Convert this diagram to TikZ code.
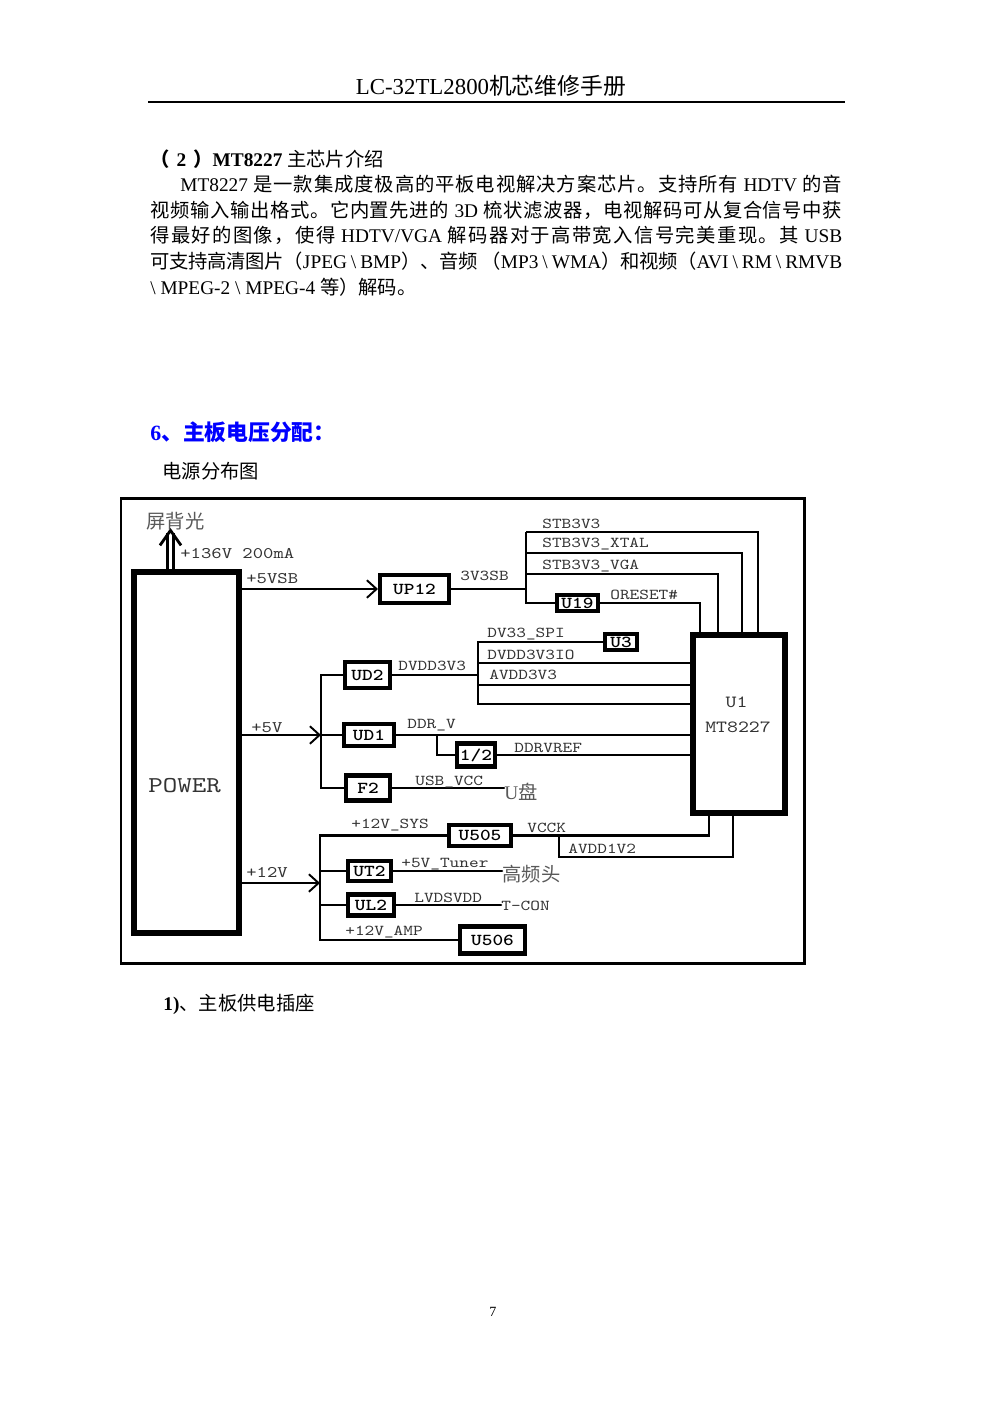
\documentclass[tikz,border=0pt]{standalone}
\usepackage{fontspec}
\setmainfont{Liberation Serif}
\newfontfamily\cjkfont{Noto Sans CJK SC}
\newfontfamily\diagmono{lmmono10-regular.otf}[FakeStretch=1.22, BoldFont=lmmonolt10-bold.otf]
\usetikzlibrary{arrows.meta}

% CJK runs, with a little stretch between the characters
\newcommand\zhloop[1]{\ifx\relax#1\else#1\hskip0pt plus 2pt minus .3pt\relax\expandafter\zhloop\fi}
\newcommand\zh[1]{{\cjkfont\zhloop#1\relax\unskip}}

\tikzstyle{txt} = [inner sep=0pt, anchor=base west, font=\fontsize{11}{14}\selectfont]
\tikzstyle{box} = [draw, line width=2.3pt, inner sep=0pt, font=\diagmono\bfseries\fontsize{9.5}{9.5}\selectfont]
\tikzstyle{chip} = [draw, line width=3.3pt, inner sep=0pt]
\tikzstyle{sig} = [inner sep=0pt, anchor=base west, text=black!80, font=\diagmono\fontsize{8.6}{8.6}\selectfont]
\tikzstyle{rail} = [sig, font=\diagmono\fontsize{9.2}{9.2}\selectfont]
\tikzstyle{tag} = [inner sep=0pt, anchor=west, text=black!65, font=\fontsize{11}{11}\selectfont]
\tikzstyle{wire} = [line width=1.1pt]
\tikzstyle{bus} = [line width=1.5pt]
\tikzstyle{feed} = [wire, -{Straight Barb[length=5.5pt,width=10pt]}]
\tikzstyle{lamp} = [double, line width=1.5pt, double distance=1.7pt]
\tikzstyle{lamptip} = [line width=1.6pt, -{Straight Barb[length=8.5pt,width=12pt]}]

\begin{document}
\begin{tikzpicture}[x=0.02cm, y=-0.02cm]
\useasboundingbox (0,0) rectangle (993,1404);
%header
\node[txt, font=\fontsize{13}{13}\selectfont, anchor=base] (title) at (491,94) {LC-32TL2800\zh{机芯维修手册}};
\draw[line width=0.8pt] (148,102) -- (845,102);
%begin text
\node[txt] (sec) at (150,166) {\textbf{\zh{（}\hskip0.14cm 2\hskip0.14cm\zh{）}MT8227} \zh{主芯片介绍}};
\node[txt] (p1) at (180,191.6) {\hbox to 13.24cm{MT8227 \zh{是一款集成度极高的平板电视解决方案芯片。支持所有} HDTV \zh{的音}}};
\node[txt] (p2) at (150,217.2) {\hbox to 13.84cm{\zh{视频输入输出格式。它内置先进的} 3D \zh{梳状滤波器，电视解码可从复合信号中获}}};
\node[txt] (p3) at (150,242.8) {\hbox to 13.84cm{\zh{得最好的图像，使得} HDTV/VGA \zh{解码器对于高带宽入信号完美重现。其} USB}};
\node[txt] (p4) at (150,268.4) {\hbox to 13.84cm{\zh{可支持高清图片（}JPEG \textbackslash{} BMP\zh{）、音频} \zh{（}MP3 \textbackslash{} WMA\zh{）和视频（}AVI \textbackslash{} RM \textbackslash{} RMVB}};
\node[txt] (p5) at (150,294) {\textbackslash{} MPEG-2 \textbackslash{} MPEG-4 \zh{等）解码。}};
\node[txt, font=\fontsize{12.4}{12.4}\selectfont\bfseries, text=blue] (head) at (150,440) {6\zh{、主板电压分配：}};
\node[txt] (cap) at (162,478) {\zh{电源分布图}};
%end text
%frame
\draw[line width=1.7pt] (121,498.5) rectangle (804,963);
%begin POWER
\node[chip, line width=3.4pt, minimum width=2.1cm, minimum height=7.22cm] (power) at (186.5,752.5) {};
\node[anchor=base west, inner sep=0pt, text=black!80, font=\diagmono\fontsize{12.9}{12.9}\selectfont] (powername) at (148,792) {POWER};
\coordinate (lamp) at (170.5,528);
\coordinate (neck) at (170.5,533);
\draw[lamp] (neck |- power.north) -- (neck);
\draw[lamptip] (neck) -- (lamp);
\node[tag] (lampname) at (146,521) {\zh{屏背光}};
\node[rail] (hv) at (180,558) {+136V 200mA};
%end POWER
%begin U1
\node[chip, minimum width=1.83cm, minimum height=3.56cm] (u1) at (739,724) {};
\node[anchor=base, inner sep=0pt, text=black!80, font=\diagmono\fontsize{9.7}{9.7}\selectfont] (u1name) at (736.5,707) {U1};
\node[anchor=base, inner sep=0pt, text=black!80, font=\diagmono\fontsize{9.7}{9.7}\selectfont] (u1part) at (738,732) {MT8227};
%end U1
%begin +5VSB
\node[box, minimum width=1.38cm, minimum height=0.56cm] (up12) at (414.5,589) {UP12};
\node[box, minimum width=0.82cm, minimum height=0.32cm] (u19) at (577.5,603) {U19};
\draw[feed] (power.east |- up12) -- (up12.west);
\node[rail] (vsb) at (246,583) {+5VSB};
\coordinate (sbtop) at (526,532);
\draw[wire] (up12.east) -- (up12.east -| sbtop);
\node[sig] (l3v3sb) at (460,580) {3V3SB};
\draw[bus] (sbtop) |- (u19.west);
\coordinate (c1) at (758,532);
\coordinate (c2) at (742,553);
\coordinate (c3) at (718,574);
\coordinate (c4) at (700,602);
\draw[bus] (sbtop) -- (c1) -- (c1 |- u1.north);
\draw[bus] (sbtop |- c2) -- (c2) -- (c2 |- u1.north);
\draw[bus] (sbtop |- c3) -- (c3) -- (c3 |- u1.north);
\draw[wire] (u19.east) -- (u19.east -| c4) -- (c4 |- u1.north);
\node[sig] (lstb) at (542,528) {STB3V3};
\node[sig] (lxtal) at (542,547) {STB3V3\_XTAL};
\node[sig] (lvga) at (542,569) {STB3V3\_VGA};
\node[sig] (lrst) at (610,599) {ORESET\#};
%end +5VSB
%begin +5V
\node[box, minimum width=0.64cm, minimum height=0.32cm] (u3) at (621,642) {U3};
\node[box, minimum width=0.9cm, minimum height=0.52cm] (ud2) at (367.5,675) {UD2};
\node[box, minimum width=1.0cm, minimum height=0.44cm] (ud1) at (369,735) {UD1};
\node[box, minimum width=0.88cm, minimum height=0.5cm] (f2) at (368,788) {F2};
\node[box, minimum width=0.76cm, minimum height=0.46cm] (half) at (476,755) {1/2};
\coordinate (io) at (478,663);
\coordinate (av) at (478,685);
\coordinate (dbot) at (478,704);
\draw[bus] (u3.west) -| (dbot) -- (dbot -| u1.west);
\draw[bus] (io) -- (io -| u1.west);
\draw[bus] (av) -- (av -| u1.west);
\draw[bus] (ud2.east) -- (ud2.east -| dbot);
\coordinate (fv) at (321,735);
\draw[feed] (power.east |- fv) -- (fv);
\draw[wire] (ud2.west) -| (fv) |- (f2.west);
\draw[wire] (fv) -- (ud1.west);
\draw[bus] (ud1.east) -- (ud1.east -| u1.west);
\coordinate (dv) at (437,735);
\draw[bus] (dv) |- (half.west);
\draw[bus] (half.east) -- (half.east -| u1.west);
\node[tag] (udisk) at (504,792) {U\zh{盘}};
\draw[bus, line cap=round] (f2.east) -- (f2.east -| udisk.west);
\node[rail] (l5v) at (251,732) {+5V};
\node[sig] (lspi) at (487,637) {DV33\_SPI};
\node[sig] (lio) at (487,659) {DVDD3V3IO};
\node[sig] (lav) at (489,679) {AVDD3V3};
\node[sig] (ldvdd) at (398,670) {DVDD3V3};
\node[sig] (lddr) at (407,728) {DDR\_V};
\node[sig] (lref) at (514,752) {DDRVREF};
\node[sig] (lusb) at (415,785) {USB\_VCC};
%end +5V
%begin +12V
\node[box, minimum width=1.24cm, minimum height=0.42cm] (u505) at (480,835.5) {U505};
\node[box, minimum width=0.86cm, minimum height=0.4cm] (ut2) at (369.5,871) {UT2};
\node[box, minimum width=0.92cm, minimum height=0.42cm] (ul2) at (371,905) {UL2};
\node[box, minimum width=1.3cm, minimum height=0.54cm] (u506) at (492.5,940) {U506};
\coordinate (tv) at (320,883);
\draw[feed] (power.east |- tv) -- (tv);
\draw[bus] (u505.west) -| (tv) |- (u506.west);
\draw[wire] (tv |- ut2) -- (ut2.west);
\draw[wire] (tv |- ul2) -- (ul2.west);
\coordinate (vk) at (709,835.5);
\coordinate (avs) at (559,835.5);
\coordinate (avc) at (733,857);
\draw[bus] (u505.east) -- (vk) -- (vk |- u1.south);
\draw[bus] (avs) |- (avc) -- (avc |- u1.south);
\node[tag] (tuner) at (502,874) {\zh{高频头}};
\draw[bus, line cap=round] (ut2.east) -- (ut2.east -| tuner.west);
\node[sig, anchor=west] (tcon) at (501,906) {T-CON};
\draw[bus, line cap=round] (ul2.east) -- (ul2.east -| tcon.west);
\node[rail] (l12v) at (246,877) {+12V};
\node[sig] (lsys) at (351,828) {+12V\_SYS};
\node[sig] (lvcck) at (527,832) {VCCK};
\node[sig] (lav12) at (568,853) {AVDD1V2};
\node[sig] (ltun) at (401,867) {+5V\_Tuner};
\node[sig] (llvds) at (414,902) {LVDSVDD};
\node[sig] (lamp12) at (345,935) {+12V\_AMP};
%end +12V
\node[txt] (sub) at (163,1010) {\textbf{1)}\zh{、主板供电插座}};
\node[txt, font=\fontsize{8}{8}\selectfont, anchor=base] (pnum) at (493,1316) {7};
\end{tikzpicture}
\end{document}
